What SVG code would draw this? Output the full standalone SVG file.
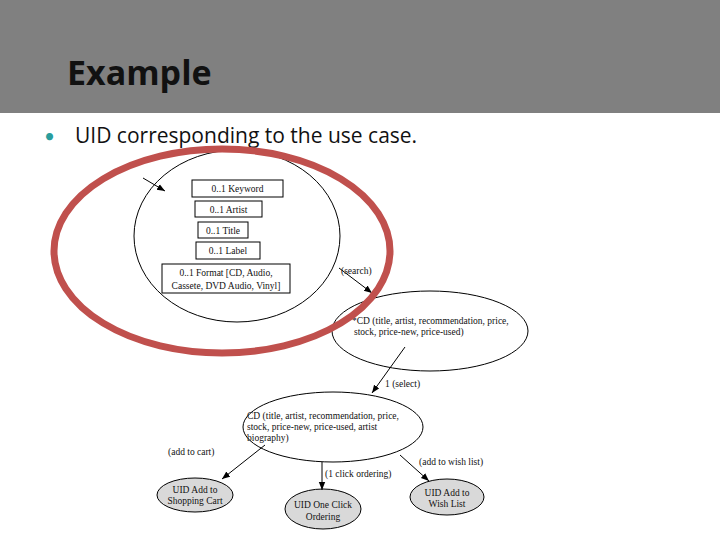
<svg xmlns="http://www.w3.org/2000/svg" width="720" height="540" viewBox="0 0 720 540">
<style>
.d{font-family:"Liberation Serif",serif;font-size:9.5px;fill:#111}
.n{fill:#fff;stroke:#000;stroke-width:1}
.g{fill:#d9d9d9;stroke:#000;stroke-width:1}
.c{stroke:#000;stroke-width:1;fill:none;marker-end:url(#a)}
</style>
<defs><marker id="a" viewBox="0 0 10 10" refX="10" refY="5" markerWidth="8" markerHeight="8" orient="auto"><path d="M0,1L10,5L0,9z" fill="#000"/></marker></defs>
<rect width="720" height="540" fill="#fff"/>
<rect width="720" height="113" fill="#808080"/>
<text x="67" y="85" font-family="'Open Sans',Lato,sans-serif" font-weight="bold" font-size="34" fill="#111">Example</text>
<text x="44" y="143" font-family="Lato,sans-serif" font-size="19" fill="#2a9d9d">•</text>
<text x="75" y="143" font-family="'Open Sans',Lato,sans-serif" font-size="21" fill="#111">UID corresponding to the use case.</text>
<g id="search">
<ellipse class="n" cx="237" cy="236" rx="103" ry="86"/>
<rect class="n" x="192" y="180" width="91" height="17"/><text class="d" x="237.5" y="192" text-anchor="middle">0..1 Keyword</text>
<rect class="n" x="195" y="201" width="67" height="16"/><text class="d" x="228.5" y="213" text-anchor="middle">0..1 Artist</text>
<rect class="n" x="198" y="222" width="50" height="16"/><text class="d" x="223" y="234" text-anchor="middle">0..1 Title</text>
<rect class="n" x="196" y="242" width="64" height="17"/><text class="d" x="228" y="254" text-anchor="middle">0..1 Label</text>
<rect class="n" x="162" y="264" width="128" height="29"/>
<text class="d" x="226" y="276" text-anchor="middle">0..1 Format [CD, Audio,</text>
<text class="d" x="226" y="289" text-anchor="middle">Cassete, DVD Audio, Vinyl]</text>
</g>
<g id="cdlist">
<ellipse class="n" cx="430" cy="331" rx="98" ry="40"/>
<text class="d" x="352" y="324">*CD (title, artist, recommendation, price,</text>
<text class="d" x="354" y="335">stock, price-new, price-used)</text>
</g>
<g id="cd">
<ellipse class="n" cx="333" cy="427" rx="90" ry="35"/>
<text class="d" x="247" y="419">CD (title, artist, recommendation, price,</text>
<text class="d" x="247" y="430">stock, price-new, price-used, artist</text>
<text class="d" x="247" y="441">biography)</text>
</g>
<g id="cart"><ellipse class="g" cx="195" cy="495" rx="38" ry="17"/>
<text class="d" x="195" y="493" text-anchor="middle">UID Add to</text><text class="d" x="195" y="504" text-anchor="middle">Shopping Cart</text></g>
<g id="oneclick"><ellipse class="g" cx="323" cy="509" rx="38" ry="20"/>
<text class="d" x="323" y="508" text-anchor="middle">UID One Click</text><text class="d" x="323" y="520" text-anchor="middle">Ordering</text></g>
<g id="wish"><ellipse class="g" cx="447" cy="497" rx="37" ry="18"/>
<text class="d" x="447" y="496" text-anchor="middle">UID Add to</text><text class="d" x="447" y="507" text-anchor="middle">Wish List</text></g>
<g id="connectors">
<path class="c" d="M143,178L165,191"/>
<path class="c" d="M339,268L372,293"/>
<text class="d" x="341" y="274">(search)</text>
<path class="c" d="M405,347L372,393"/>
<text class="d" x="385" y="387">1 (select)</text>
<path class="c" d="M265,445L222,479"/>
<text class="d" x="168" y="455">(add to cart)</text>
<path class="c" d="M322,462L322,490"/>
<text class="d" x="325" y="477">(1 click ordering)</text>
<path class="c" d="M400,455L429,481"/>
<text class="d" x="419" y="465">(add to wish list)</text>
</g>
<ellipse cx="222" cy="251" rx="168" ry="102" fill="none" stroke="#c0504d" stroke-width="7"/>
</svg>
